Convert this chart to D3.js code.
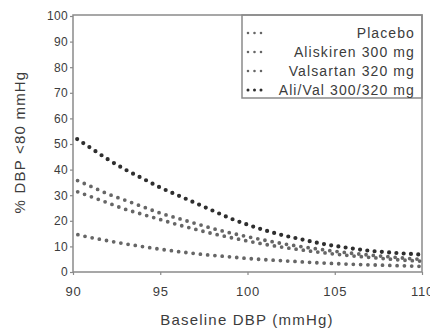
<!DOCTYPE html>
<meta charset="utf-8">
<title>% DBP &lt;80 mmHg by baseline DBP</title>
<style>

body {
  margin: 0;
  background: #fff;
}

text {
  font-family: "Liberation Sans", Arial, sans-serif;
  fill: #3c3c3c;
}

.frame {
  fill: none;
  stroke: #8a8a8a;
  stroke-width: 1.5px;
}

.axis path {
  display: none;
}
.axis line {
  stroke: #8a8a8a;
  stroke-width: 1.2px;
}

.dots {
  fill: none;
  stroke-linecap: round;
}

</style>
<body>
<svg></svg>
</body>
<script src="https://d3js.org/d3.v7.min.js"></script>
<script>

// baseline DBP (mmHg)
var baseline = [90, 91, 92, 93, 94, 95, 96, 97, 98, 99, 100, 101, 102, 103, 104, 105, 106, 107, 108, 109, 110];

// % of patients reaching DBP < 80 mmHg
var placebo   = [15, 13.5, 12.2, 11, 9.9, 8.9, 8.0, 7.2, 6.5, 5.9, 5.3, 4.8, 4.4, 4.0, 3.6, 3.3, 3.0, 2.8, 2.6, 2.4, 2.2];
var aliskiren = [36.5, 33.5, 30.5, 28, 25.5, 23, 21, 19, 17, 15.3, 13.8, 12.4, 11.1, 10, 9, 8.1, 7.3, 6.6, 6, 5.4, 4.9];
var valsartan = [32, 29.5, 27, 24.5, 22.5, 20.5, 18.5, 16.7, 15, 13.5, 12.1, 10.8, 9.7, 8.7, 7.8, 7, 6.3, 5.7, 5.1, 4.6, 4.2];
var aliVal    = [53, 48.5, 44, 40, 36.5, 33, 30, 27, 24, 21, 18.5, 16.3, 14.4, 12.9, 11.4, 10.2, 9.2, 8.3, 7.7, 7.2, 6.8];

var seriesNames = ["Placebo", "Aliskiren 300 mg", "Valsartan 320 mg", "Ali/Val 300/320 mg"];
var seriesValues = [placebo, aliskiren, valsartan, aliVal];

var xTicks = [90, 95, 100, 105, 110];
var yTicks = [0, 10, 20, 30, 40, 50, 60, 70, 80, 90, 100];

var width = 430,
    height = 328;

var svg = d3.select("svg").attr("width", width).attr("height", height);

var x = d3.scaleLinear().domain([90, 110]).range([73, 422]),
    y = d3.scaleLinear().domain([0, 100]).range([272, 16]);

var style = function(i) {
  // the combination is drawn darker and a little heavier
  return i == 3 ? {color: "#2e2e2e", w: 4.2} : {color: "#666", w: 3.8};
};

// axes
svg.append("g")
    .attr("class", "axis")
    .attr("transform", "translate(0," + y(0) + ")")
    .call(d3.axisBottom(x).tickValues(xTicks).tickSize(3).tickPadding(12))
    .selectAll("text")
    .style("font-size", "13px")
    .style("letter-spacing", "0.8px");

svg.append("g")
    .attr("class", "axis")
    .attr("transform", "translate(" + x(90) + ",0)")
    .call(d3.axisLeft(y).tickValues(yTicks).tickSize(3).tickPadding(2))
    .selectAll("text")
    .style("font-size", "12px")
    .style("letter-spacing", "0.3px");

svg.append("rect")
    .attr("class", "frame")
    .attr("x", x(90))
    .attr("y", y(100) - 1)
    .attr("width", x(110) - x(90))
    .attr("height", y(0) - y(100) + 1);

// curves, drawn as dotted lines
var line = d3.line()
    .x(function(d) { return x(d[0]); })
    .y(function(d) { return y(d[1]); })
    .curve(d3.curveMonotoneX);

var curves = svg.append("g");
seriesValues.forEach(function(vals, i) {
  var s = style(i);
  curves.append("path")
      .datum(baseline.map(function(b, j) { return [b, vals[j]]; }))
      .attr("class", "dots")
      .attr("d", line)
      .attr("stroke", s.color)
      .attr("stroke-width", s.w)
      .attr("stroke-dasharray", "0 7.3")
      .attr("stroke-dashoffset", 2.3);
});

// legend
var legend = svg.append("g");
legend.append("rect")
    .attr("class", "frame")
    .attr("x", 242)
    .attr("y", y(100) - 1)
    .attr("width", x(110) - 242)
    .attr("height", 83);

seriesNames.forEach(function(name, i) {
  var s = style(i),
      cy = 33 + i * 19;
  // three dots per sample
  legend.append("line")
      .attr("class", "dots")
      .attr("x1", 248).attr("x2", 261.5)
      .attr("y1", cy).attr("y2", cy)
      .attr("stroke", s.color)
      .attr("stroke-width", s.w - 1.2)
      .attr("stroke-dasharray", "0 6.5");
  legend.append("text")
      .attr("x", 415)
      .attr("y", cy + 5)
      .attr("text-anchor", "end")
      .style("font-size", "14px")
      .style("letter-spacing", "1.1px")
      .text(name);
});

// axis titles
svg.append("text")
    .attr("x", 247)
    .attr("y", 325)
    .attr("text-anchor", "middle")
    .style("font-size", "15px")
    .style("letter-spacing", "1.2px")
    .text("Baseline DBP (mmHg)");

svg.append("text")
    .attr("transform", "translate(25,142) rotate(-90)")
    .attr("text-anchor", "middle")
    .style("font-size", "15px")
    .style("letter-spacing", "1.2px")
    .text("% DBP <80 mmHg");

</script>
